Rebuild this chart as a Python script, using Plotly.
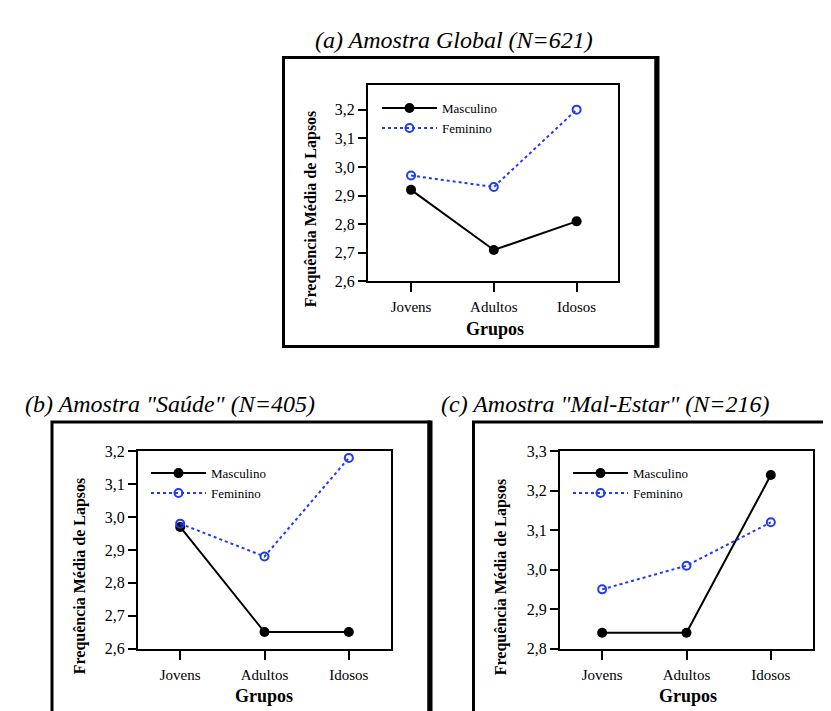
import plotly.graph_objects as go

W, H = 831, 711

groups = ["Jovens", "Adultos", "Idosos"]
series_names = ["Masculino", "Feminino"]

a_masc = [2.92, 2.71, 2.81]
a_fem = [2.97, 2.93, 3.20]
b_masc = [2.97, 2.65, 2.65]
b_fem = [2.98, 2.88, 3.18]
c_masc = [2.84, 2.84, 3.24]
c_fem = [2.95, 3.01, 3.12]

titles = ['(a) Amostra Global (N=621)', '(b) Amostra "Saúde" (N=405)', '(c) Amostra "Mal-Estar" (N=216)']
y_title = "Frequência Média de Lapsos"
x_title = "Grupos"

FONT = "Liberation Serif"
BLUE = "#1f3cf5"


def px(x):
    return x / W


def py(y):
    return 1 - y / H


fig = go.Figure()

panels = [
    dict(ax="", data=(a_masc, a_fem), leg="legend",
         dom=(360, 610, 71, 272), yr=[2.6, 3.285], xr=[-0.52, 2.5],
         dtick=0.1),
    dict(ax="2", data=(b_masc, b_fem), leg="legend2",
         dom=(130, 383, 446, 648), yr=[2.6, 3.2], xr=[-0.5, 2.5],
         dtick=0.1),
    dict(ax="3", data=(c_masc, c_fem), leg="legend3",
         dom=(552, 805, 446, 648), yr=[2.8, 3.3], xr=[-0.5, 2.5],
         dtick=0.1),
]

for p in panels:
    masc, fem = p["data"]
    fig.add_trace(go.Scatter(
        x=groups, y=masc, name=series_names[0], mode="lines+markers",
        xaxis="x" + p["ax"], yaxis="y" + p["ax"], legend=p["leg"],
        line=dict(color="black", width=2),
        marker=dict(symbol="circle", size=10, color="black"),
    ))
    fig.add_trace(go.Scatter(
        x=groups, y=fem, name=series_names[1], mode="lines+markers",
        xaxis="x" + p["ax"], yaxis="y" + p["ax"], legend=p["leg"],
        line=dict(color=BLUE, width=2, dash="dot"),
        marker=dict(symbol="circle-open", size=8, color=BLUE, line=dict(width=2, color=BLUE)),
    ))

layout = dict(
    width=W, height=H, margin=dict(l=0, r=0, t=0, b=0),
    paper_bgcolor="white", plot_bgcolor="white",
    separators=", ", font=dict(family=FONT, color="black"),
    showlegend=True,
)

for p in panels:
    x0, x1, y0, y1 = p["dom"]
    k = p["ax"]
    layout["xaxis" + k] = dict(
        domain=[px(x0), px(x1)], anchor="y" + k, type="category",
        range=p["xr"], showline=True, linewidth=2, linecolor="black", mirror=True,
        ticks="outside", ticklen=9, tickwidth=2, tickcolor="black",
        showgrid=False, zeroline=False, ticklabelstandoff=2,
        tickfont=dict(family=FONT, size=15, color="black"),
    )
    layout["yaxis" + k] = dict(
        domain=[py(y1), py(y0)], anchor="x" + k,
        range=p["yr"], dtick=p["dtick"], tick0=2.0, tickformat=".1f",
        showline=True, linewidth=2, linecolor="black", mirror=True,
        ticks="outside", ticklen=8, tickwidth=2, tickcolor="black",
        showgrid=False, zeroline=False,
        tickfont=dict(family=FONT, size=16, color="black"),
    )

leg_common = dict(font=dict(family=FONT, size=13, color="black"), bgcolor="rgba(0,0,0,0)",
                  borderwidth=0, itemwidth=55, xanchor="left", yanchor="top",
                  tracegroupgap=0)
layout["legend"] = dict(leg_common, x=px(369), y=py(79))
layout["legend2"] = dict(leg_common, x=px(138), y=py(453))
layout["legend3"] = dict(leg_common, x=px(560), y=py(453))

fig.update_layout(**layout)

# panel titles
for t, (cx, cy) in zip(titles, [(446, 25), (162, 398), (597, 398)]):
    fig.add_annotation(text=t, x=px(cx), y=py(cy), xref="paper", yref="paper",
                       showarrow=False, xanchor="center", yanchor="middle",
                       font=dict(family=FONT, size=24, color="black", style="italic"))

# axis titles
for (cx, cy) in [(303, 198), (72, 574), (493, 574)]:
    fig.add_annotation(text="<b>" + y_title + "</b>", x=px(cx), y=py(cy), xref="paper", yref="paper",
                       showarrow=False, textangle=-90, xanchor="center", yanchor="middle",
                       font=dict(family=FONT, size=16, color="black"))
for (cx, cy) in [(487, 321), (256, 697), (680, 697)]:
    fig.add_annotation(text="<b>" + x_title + "</b>", x=px(cx), y=py(cy), xref="paper", yref="paper",
                       showarrow=False, xanchor="center", yanchor="middle",
                       font=dict(family=FONT, size=18, color="black"))

# outer frames
frames = [(275.5, 648, 42.5, 338.5), (44, 421, 416, 730), (465.5, 850, 416, 730)]
for (l, r, t, b) in frames:
    fig.add_shape(type="rect", xref="paper", yref="paper",
                  x0=px(l), x1=px(r), y0=py(b), y1=py(t),
                  line=dict(color="black", width=3), layer="above")
# thicker right edge (shadow-like)
for (l, r, t, b) in frames[:2]:
    fig.add_shape(type="line", xref="paper", yref="paper",
                  x0=px(r + 1), x1=px(r + 1), y0=py(b + 1.5), y1=py(t - 1.5),
                  line=dict(color="black", width=5), layer="above")

fig.write_html("out.html")
